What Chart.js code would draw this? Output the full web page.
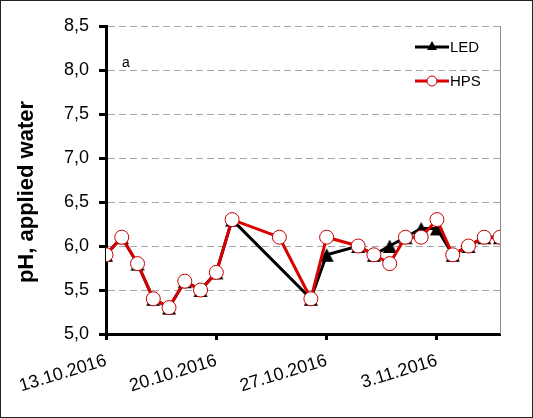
<!DOCTYPE html>
<html><head><meta charset="utf-8">
<script src="https://cdn.jsdelivr.net/npm/chart.js@4/dist/chart.umd.min.js"></script>
<style>html,body{margin:0;padding:0;background:#fff}#wrap{width:533px;height:418px}</style>
</head><body><div id="wrap"><canvas id="c" width="533" height="418"></canvas></div>
<script>
const dates = ['13.10.2016','14.10.2016','15.10.2016','16.10.2016','17.10.2016','18.10.2016','19.10.2016','20.10.2016','21.10.2016','24.10.2016','26.10.2016','27.10.2016','29.10.2016','30.10.2016','31.10.2016','1.11.2016','2.11.2016','3.11.2016','4.11.2016','5.11.2016','6.11.2016','7.11.2016'];
const ledValues = [5.9,6.1,5.8,5.4,5.3,5.6,5.5,5.7,6.3,null,5.4,5.9,6.0,5.9,6.0,6.1,6.2,6.2,5.9,6.0,6.1,6.1];
const hpsValues = [5.9,6.1,5.8,5.4,5.3,5.6,5.5,5.7,6.3,6.1,5.4,6.1,6.0,5.9,5.8,6.1,6.1,6.3,5.9,6.0,6.1,6.1];
const xTickLabels = ['13.10.2016','20.10.2016','27.10.2016','3.11.2016'];
const xEndLabel = '7.11.2016';
const yMin = 5.0, yMax = 8.5, yStep = 0.5;

function toDay(s){const p=s.split('.').map(Number);return Date.UTC(p[2],p[1]-1,p[0])/86400000;}
const day0 = toDay(dates[0]);
const xs = dates.map(d=>toDay(d)-day0);
const tickDays = xTickLabels.map(d=>toDay(d)-day0);
const xMax = toDay(xEndLabel)-day0;
const ledData = xs.map((x,i)=>({x:x,y:ledValues[i]}));
const hpsData = xs.map((x,i)=>({x:x,y:hpsValues[i]}));

const FONT = '"Liberation Sans", Arial, sans-serif';

const tri = document.createElement('canvas');
tri.width = 16; tri.height = 16;
(function(){const g=tri.getContext('2d');g.fillStyle='#000';g.beginPath();g.moveTo(8,1.5);g.lineTo(15,15);g.lineTo(1,15);g.closePath();g.fill();})();

const extras = {
  id:'extras',
  afterDraw(chart){
    const {ctx, chartArea:a} = chart;
    ctx.save();
    ctx.strokeStyle='#8c8c8c'; ctx.lineWidth=1;
    ctx.beginPath(); ctx.moveTo(a.right+0.5,a.top); ctx.lineTo(a.right+0.5,a.bottom); ctx.stroke();
    ctx.strokeStyle='#222'; ctx.lineWidth=1;
    ctx.strokeRect(0.5,0.5,chart.width-1,chart.height-1);
    ctx.save();
    ctx.translate(27,192); ctx.rotate(-Math.PI/2);
    ctx.fillStyle='#000'; ctx.font='bold 22px '+FONT; ctx.textAlign='center'; ctx.textBaseline='middle';
    ctx.fillText('pH, applied water',0,0);
    ctx.restore();
    ctx.fillStyle='#000'; ctx.font='14px '+FONT; ctx.textBaseline='middle'; ctx.textAlign='left';
    ctx.fillText('a',122,63);
    const items=[{t:'LED',c:'#000',p:'tri',y:47},{t:'HPS',c:'#d90000',p:'circ',y:81}];
    items.forEach(it=>{
      ctx.strokeStyle=it.c; ctx.lineWidth=3;
      ctx.beginPath(); ctx.moveTo(415,it.y); ctx.lineTo(449,it.y); ctx.stroke();
      if(it.p==='tri'){
        ctx.fillStyle='#000'; ctx.beginPath(); ctx.moveTo(432,it.y-6); ctx.lineTo(437,it.y+3); ctx.lineTo(427,it.y+3); ctx.closePath(); ctx.fill();
      } else {
        ctx.fillStyle='#fff'; ctx.strokeStyle='#c00000'; ctx.lineWidth=1;
        ctx.beginPath(); ctx.arc(432,it.y,5,0,Math.PI*2); ctx.fill(); ctx.stroke();
      }
      ctx.fillStyle='#000'; ctx.font='15px '+FONT; ctx.textAlign='left'; ctx.textBaseline='middle';
      ctx.fillText(it.t,450,it.y+1);
    });
    ctx.restore();
  }
};

new Chart(document.getElementById('c'),{
  type:'line',
  data:{datasets:[
    {label:'LED',data:ledData,borderColor:'#000',backgroundColor:'#000',borderWidth:3,pointStyle:tri,pointRadius:8,spanGaps:true,tension:0,order:2},
    {label:'HPS',data:hpsData,borderColor:'#d90000',backgroundColor:'#fff',borderWidth:3,pointStyle:'circle',pointRadius:7,pointBorderWidth:1,pointBackgroundColor:'#fff',pointBorderColor:'#c00000',tension:0,order:1}
  ]},
  options:{
    responsive:false,animation:false,
    layout:{padding:{top:26,right:33,left:0,bottom:0}},
    plugins:{legend:{display:false},tooltip:{enabled:false}},
    scales:{
      x:{type:'linear',min:0,max:xMax,
        afterBuildTicks(s){s.ticks=tickDays.map(v=>({value:v}));},
        afterFit(s){s.height=84;},
        grid:{drawOnChartArea:false,tickLength:6,tickColor:'#000',tickWidth:3},
        border:{color:'#000',width:3},
        ticks:{autoSkip:false,minRotation:17,maxRotation:17,color:'#000',font:{family:FONT,size:18},padding:10,
          callback(v){const i=tickDays.indexOf(v);return i>=0?xTickLabels[i]:'';}}
      },
      y:{min:yMin,max:yMax,
        afterFit(s){s.width=106;},
        grid:{color:'#a6a6a6',lineWidth:1,tickLength:7,tickColor:'#000',tickWidth:3},
        border:{color:'#000',width:3,dash:[7,4]},
        ticks:{stepSize:yStep,color:'#000',font:{family:FONT,size:18},padding:10,
          callback(v){return v.toFixed(1).replace('.',',');}}
      }
    }
  },
  plugins:[extras]
});
</script></body></html>
